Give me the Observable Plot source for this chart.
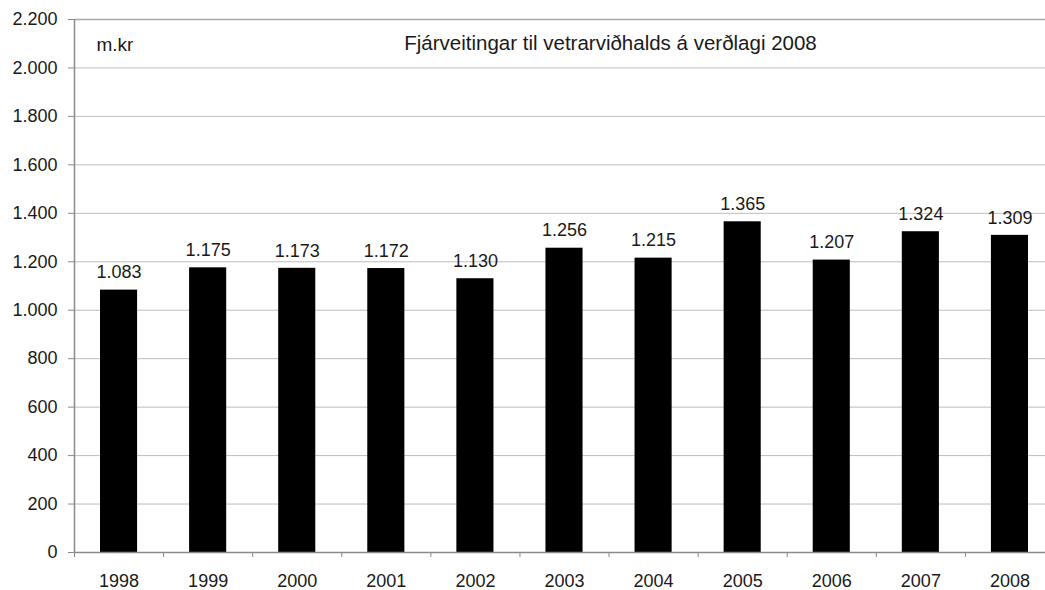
<!DOCTYPE html>
<html>
<head>
<meta charset="utf-8">
<script src="https://cdn.jsdelivr.net/npm/d3@7"></script>
<script src="https://cdn.jsdelivr.net/npm/@observablehq/plot@0.6"></script>
<style>
  body { margin: 0; background: #fff; }
  svg { display: block; font-family: "Liberation Sans", Arial, sans-serif; }
</style>
</head>
<body>
<div id="chart"></div>
<script>
const years = ["1998","1999","2000","2001","2002","2003","2004","2005","2006","2007","2008"];
const values = [1083, 1175, 1173, 1172, 1130, 1256, 1215, 1365, 1207, 1324, 1309];
const yTicks = [0, 200, 400, 600, 800, 1000, 1200, 1400, 1600, 1800, 2000, 2200];
const title = "Fjárveitingar til vetrarviðhalds á verðlagi 2008";
const unit = "m.kr";

const data = years.map((y, i) => ({year: y, i, value: values[i]}));
const boundaries = d3.range(years.length + 1);
const fmt = d3.formatLocale({decimal: ",", thousands: ".", grouping: [3], currency: ["", ""]}).format(",d");

const chart = Plot.plot({
  width: 1045,
  height: 590,
  marginLeft: 74,
  marginRight: 0,
  marginTop: 19,
  marginBottom: 38,
  style: {fontFamily: "Liberation Sans, Arial, sans-serif", fontSize: "18px", color: "#1a1a1a", background: "#fff"},
  x: {type: "linear", domain: [0, years.length], range: [74, 1054]},
  y: {domain: [0, 2200], range: [552, 19]},
  marks: [
    Plot.ruleY(yTicks.filter(d => d > 0 && d < 2200), {stroke: "#bdbdbd", strokeWidth: 1}),
    Plot.ruleY([2200], {stroke: "#a8a8a8", strokeWidth: 1.5}),
    Plot.rectY(data, {x1: d => d.i, x2: d => d.i + 1, y: "value", fill: "#000", insetLeft: 26, insetRight: 26}),
    Plot.ruleX([0], {stroke: "#8a8a8a", strokeWidth: 1.5}),
    Plot.ruleY([0], {stroke: "#8a8a8a", strokeWidth: 1.5}),
    Plot.axisY({ticks: yTicks, tickFormat: fmt, tickSize: 6, tickPadding: 11, stroke: "#8a8a8a", fontSize: 18, fill: "#1a1a1a", label: null}),
    Plot.axisX({ticks: boundaries, tickFormat: () => "", tickSize: 5, stroke: "#8a8a8a", label: null}),
    Plot.axisX({ticks: years.map((_, i) => i + 0.5), tickFormat: d => years[Math.floor(d)], tickSize: 0, tickPadding: 22, fontSize: 18, fill: "#1a1a1a", label: null}),
    Plot.text(data, {x: d => d.i + 0.5, y: "value", text: d => fmt(d.value), dy: -17.5, lineAnchor: "middle", fontSize: 18, fill: "#1a1a1a"}),
    Plot.text([unit], {x: 0, y: 2200, text: d => d, dx: 22, dy: 25, textAnchor: "start", lineAnchor: "middle", fontSize: 19, fill: "#1a1a1a"}),
    Plot.text([title], {x: years.length / 2, y: 2200, text: d => d, dx: 46, dy: 24, textAnchor: "middle", lineAnchor: "middle", fontSize: 20.5, fill: "#1a1a1a"})
  ]
});
document.getElementById("chart").appendChild(chart);
</script>
</body>
</html>
